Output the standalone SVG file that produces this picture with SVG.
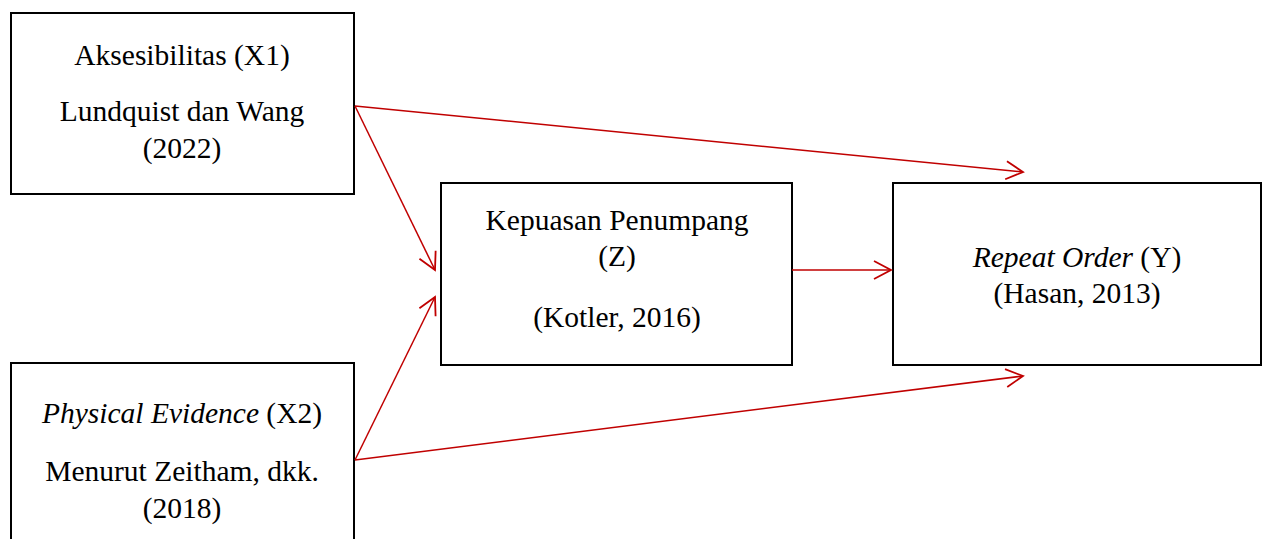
<svg xmlns="http://www.w3.org/2000/svg" width="1262" height="539" viewBox="0 0 1262 539">
  <style>
    .box { fill: #ffffff; stroke: #000000; stroke-width: 2; }
    .lbl { font-family: "Liberation Serif", "Times New Roman", serif; font-size: 29.5px; fill: #000000; text-anchor: middle; }
    .it { font-style: italic; }
    .conn { stroke: #c00000; stroke-width: 1.5; fill: none; marker-end: url(#open); }
  </style>
  <defs>
    <marker id="open" viewBox="0 0 24 24" refX="21" refY="12" markerWidth="24" markerHeight="24" markerUnits="userSpaceOnUse" orient="auto">
      <path d="M4 3 L21 12 L4 21" fill="none" stroke="#c00000" stroke-width="1.8"/>
    </marker>
  </defs>

  <g id="node-x1">
    <rect class="box" x="11" y="13" width="343" height="181"/>
    <text class="lbl" x="182" y="65">Aksesibilitas (X1)</text>
    <text class="lbl" x="182" y="121">Lundquist dan Wang</text>
    <text class="lbl" x="182" y="158">(2022)</text>
  </g>

  <g id="node-x2">
    <rect class="box" x="11" y="363" width="343" height="190"/>
    <text class="lbl" x="182" y="423"><tspan class="it">Physical Evidence</tspan> (X2)</text>
    <text class="lbl" x="182" y="481">Menurut Zeitham, dkk.</text>
    <text class="lbl" x="182" y="518">(2018)</text>
  </g>

  <g id="node-z">
    <rect class="box" x="441" y="183" width="351" height="182"/>
    <text class="lbl" x="617" y="230">Kepuasan Penumpang</text>
    <text class="lbl" x="617" y="266">(Z)</text>
    <text class="lbl" x="617" y="327">(Kotler, 2016)</text>
  </g>

  <g id="node-y">
    <rect class="box" x="893" y="183" width="368" height="182"/>
    <text class="lbl" x="1077" y="267"><tspan class="it">Repeat Order</tspan> (Y)</text>
    <text class="lbl" x="1077" y="303">(Hasan, 2013)</text>
  </g>

  <g id="connectors">
    <line class="conn" x1="355" y1="106" x2="1023" y2="172"/>
    <line class="conn" x1="355" y1="106" x2="435" y2="270"/>
    <line class="conn" x1="355" y1="460" x2="435" y2="297"/>
    <line class="conn" x1="355" y1="460" x2="1023" y2="376"/>
    <line class="conn" x1="792" y1="270" x2="891" y2="270"/>
  </g>
</svg>
